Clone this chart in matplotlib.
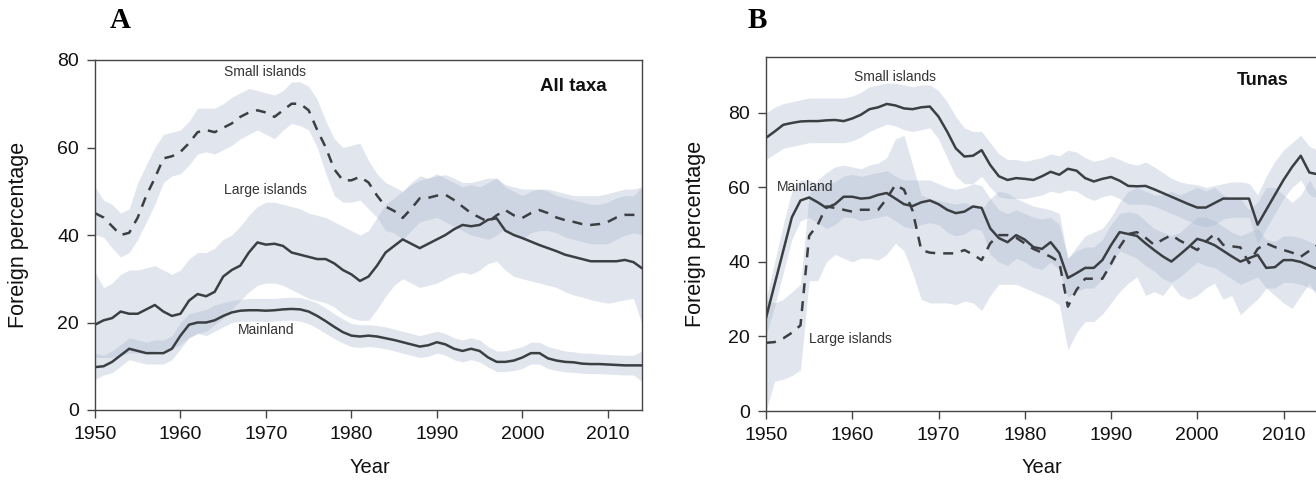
import matplotlib
matplotlib.use("Agg")
import matplotlib.pyplot as plt
import numpy as np

plt.rcParams['font.family'] = ['Liberation Sans', 'DejaVu Sans']

years = np.arange(1950, 2015)

# ---- Panel A: all taxa ----
a_small = [45, 44, 42, 40, 40.5, 44, 49, 53, 57.5, 58,
           59, 61, 63.5, 64, 63.5, 64.5, 65.5, 67, 68, 68.5,
           68, 67, 68.5, 70, 70, 68.5, 64, 60, 55, 52.5,
           52.5, 53.3, 52, 49, 46.5, 45.5, 43.9, 46, 48.4, 48.5,
           49, 49.2, 48, 46.5, 45, 44, 43, 44.5, 45.7, 44.5,
           43.9, 45, 45.7, 45, 44, 43.4, 43, 42.5, 42.3, 42.5,
           43, 44, 44.6, 44.6, 44.5]
a_small_hi = [51, 48, 47, 45, 46, 52, 56, 60, 63, 63.5,
              64, 66, 69, 69, 69, 70, 71.5, 72.5, 73.5, 73,
              72.5, 72, 73, 75, 75, 74, 71, 66, 62, 60,
              60.5, 61, 57, 54, 52, 51, 50, 52, 53.5, 53,
              54, 53, 52, 51, 51.5, 51, 52, 53, 51, 50,
              49, 50, 50.5, 50, 49, 48.5, 48, 47.5, 47, 47,
              47.5, 48.5, 49, 49, 51]
a_small_lo = [40, 39.5, 37, 35, 36, 39, 43, 47, 52, 53.5,
              54, 56, 58.5, 59, 58.5, 59.5, 60.5, 62, 63, 64,
              63, 62, 64, 65.5, 65, 64, 60, 54, 49, 47.5,
              47.5, 48, 46, 44, 41, 40.5, 39, 41, 43, 43.5,
              44, 43, 42, 41, 40, 39.5, 39, 40, 41.5, 40,
              39, 40.5, 41, 41, 40.5, 39.5, 39, 38.5, 38, 38,
              38, 39, 40, 40.5, 40]

a_large = [19.5, 20.5, 21, 22.5, 22, 22, 23, 24, 22.5, 21.5,
           22, 25, 26.5, 26, 27, 30.5, 32, 33, 36, 38.3,
           37.8, 38, 37.5, 36, 35.5, 35, 34.5, 34.5, 33.5, 32,
           31, 29.5, 30.5, 33, 36, 37.5, 39, 38, 37, 38,
           39, 40, 41.3, 42.3, 42, 42.3, 43.5, 43.8, 41, 40,
           39.3, 38.5, 37.7, 37, 36.3, 35.5, 35, 34.5, 34, 34,
           34, 34, 34.3, 33.8, 32.4]
a_large_hi = [31.5, 28, 29, 31, 32, 32, 32.5, 33, 32, 31,
              32, 34.5, 36, 36, 37, 39, 40, 42, 44.5, 46.5,
              47.5, 47.5, 47, 46.5, 46, 45, 44.5, 44, 43, 42,
              41, 40, 41, 44, 47, 48.5, 50, 51.5, 52.5, 53,
              53.5, 53.8, 53, 52, 52, 52.5, 53, 53, 51.5, 51,
              50.5, 50.5, 50.5, 50.5, 50, 49.5, 49, 49, 49, 49,
              49.5, 50, 50.5, 50.5, 51]
a_large_lo = [12, 12, 12, 12.5, 13, 13, 13, 13.5, 13.5, 14,
              15, 16.5, 17.5, 18, 19.5, 21, 23, 25, 27, 28.5,
              29, 29, 28.5, 27.5, 26.5, 25.5, 25, 24.5, 23.5, 22,
              21, 20.5, 20.5, 23, 26, 28.5, 30, 29, 28, 28.5,
              29, 30, 31, 31.5, 31, 32, 33.5, 34, 32, 30.5,
              30, 29.5, 29, 28.5, 28, 27, 26.3, 25.8, 25.2, 24.8,
              24.4, 24.8, 25.2, 25.5, 19.6]

a_main = [9.8, 10, 11, 12.5, 14, 13.5, 13, 13, 13, 14,
          17, 19.5, 20, 20, 20.5, 21.5, 22.3, 22.7, 22.8, 22.8,
          22.7, 22.8, 23, 23.1, 23, 22.5, 21.5, 20.3, 19, 17.8,
          17, 16.8, 17, 16.8, 16.4, 16, 15.5, 15, 14.5, 14.8,
          15.5, 15, 14, 13.5, 14, 13.5, 12, 11, 11, 11.3,
          12, 13, 13, 11.8, 11.3, 11, 10.9, 10.6, 10.5, 10.5,
          10.4, 10.3, 10.2, 10.2, 10.2]
a_main_hi = [13, 12.5, 13.5, 15, 16.5, 16, 15.5, 16, 16, 17,
             20, 22, 22.5, 23, 24, 24.5, 25, 25.3, 25.5, 25.5,
             25.5, 25.5, 25.7, 25.8, 25.7, 25.2, 24.5, 23.3, 22, 20.8,
             19.8, 19.5, 19.5, 19.3, 19, 18.5, 18, 17.5, 17, 17.5,
             18, 17.5, 16.5, 16, 16.5, 16, 14.5, 13.5, 13.5, 14,
             14.5, 15.5, 15.5, 14.5, 14, 13.5, 13.3, 13, 13, 12.8,
             12.7, 12.6, 12.5, 12.5, 13.5]
a_main_lo = [7, 8, 8.5, 10, 11.5, 11, 10.5, 10.5, 10.5, 11.5,
             14, 16.5, 17.5, 17, 18, 19, 20, 20.3, 20.3, 20.3,
             20.2, 20.3, 20.5, 20.5, 20.3, 19.7, 18.7, 17.5, 16.3, 15.3,
             14.5, 14.3, 14.5, 14.3, 14, 13.5, 13, 12.5, 12, 12.3,
             13, 12.5, 11.5, 11, 11.5, 11, 9.8, 8.8, 8.8, 9,
             9.5, 10.5, 10.5, 9.5, 9, 8.7, 8.6, 8.4, 8.3, 8.3,
             8.2, 8.1, 8, 8, 6.5]

# ---- Panel B: tunas ----
b_small = [73.3, 75, 76.8, 77.3, 77.7, 77.8, 77.8, 78, 78.1, 77.8,
           78.5, 79.5, 81, 81.5, 82.4, 82, 81.2, 81, 81.5, 81.7,
           79, 75, 70.5, 68.3, 68.5, 70, 66, 63, 62, 62.5,
           62.3, 62, 63, 64.2, 63.4, 65, 64.5, 62.5, 61.6, 62.3,
           62.8, 61.8, 60.4, 60.3, 60.4, 59.5, 58.5, 57.5, 56.5, 55.5,
           54.6, 54.6, 55.8, 57, 57, 57, 57, 50, 54, 58,
           62, 65.5, 68.5, 64, 63.5]
b_small_hi = [80, 81.5, 82.5, 83, 83.5, 84, 84, 84, 84, 84,
              84.5, 85.5, 87, 87.5, 88, 88, 87.5, 87, 87.5, 87.5,
              86, 83, 79, 76, 75, 75, 72, 69, 67.5, 67.5,
              67, 67.5, 68, 69, 68.5, 70, 69.5, 68, 67, 67.5,
              68.4, 67.5, 66.5, 66, 66.8, 65.5, 64, 62.5, 61.5, 61,
              60.7, 60, 60.5, 61, 61.5, 61.5, 61.1, 58, 63, 67,
              70, 72, 74, 71, 70]
b_small_lo = [67.5, 69, 70.5, 71, 71.5, 72, 72, 72, 72, 72,
              72.5, 73.5, 75, 76, 77, 76.5, 75.5, 75, 75.5, 76,
              73, 68, 63, 61, 61, 63, 60, 57.5, 57, 57,
              57, 57.5, 58, 59, 58.5, 59.3, 59, 57.5, 56.5, 57.5,
              58, 57, 55.5, 55.5, 55.5, 55, 54, 53, 52, 51,
              50, 49.5, 50, 51.5, 52, 52, 52, 45, 49, 53,
              57, 60, 62, 58, 57]

b_main = [25, 34, 43, 52, 56.5, 57.3, 56, 54.5, 55.5, 57.5,
          57.5, 57, 57.2, 58, 58.5, 57, 55.5, 55, 56, 56.5,
          55.5, 54, 53.1, 53.5, 54.9, 54.5, 49, 46.4, 45.3, 47.2,
          46, 44, 43.5, 45.3, 42.4, 35.7, 37, 38.4, 38.4, 40.5,
          44.5, 48, 47.5, 47, 45, 43.2, 41.5, 40.1, 42, 44,
          46.2, 45.5, 44.5, 43, 41.5, 40.1, 41, 41.9, 38.4, 38.6,
          40.5, 40.5, 40, 39, 38]
b_main_hi = [30, 40, 50, 59, 62, 62, 61, 61, 61.5, 63,
             63.5, 63, 63.5, 64, 64.5, 63, 62, 62, 62, 62,
             61, 60, 59.5, 60, 61, 60.5, 57, 54, 53, 54,
             53, 52, 51.5, 52, 50, 41, 43, 44, 44, 46,
             50, 53, 53.5, 53, 51, 49, 48, 47, 48, 50,
             52, 52, 51, 49.5, 48, 47, 48, 49, 46, 45.5,
             47, 47, 46.5, 45.5, 44.5]
b_main_lo = [20, 28, 37, 46, 51, 52, 50.5, 49, 50, 52,
             52, 51, 51.5, 52, 52.5, 51, 49.5, 49, 50, 50.5,
             50, 48, 47, 47.5, 49, 48.5, 42, 40, 39, 41,
             40, 38.5, 38, 40, 38, 30.5, 32, 33, 33, 35.5,
             39, 43, 42, 41, 39, 37.5, 35.5, 34.5, 36, 38,
             40, 39, 38.5, 37, 35.5, 34, 35, 36, 33, 33,
             34.5, 34.5, 34, 33, 32]

b_large = [18.3, 18.5, 19.5, 21, 23, 47, 50, 54.9, 54.5, 54,
           53.5, 54, 54, 54, 57, 60.7, 59.4, 53.7, 43.2, 42.5,
           42.3, 42.3, 42.3, 43.2, 42, 40.5, 45, 47.2, 47.2, 46.5,
           45, 43.5, 42.5, 41.4, 40, 28, 32.5, 35.5, 35.5, 35.5,
           39.5, 44, 47.5, 48, 46.5, 44.6, 46, 47.2, 45.7, 44.5,
           43.2, 45.5, 47.5, 44.6, 44.2, 43.9, 39.7, 43.5, 45, 44,
           43.2, 42.5, 41.4, 43, 44.6]
b_large_hi = [30, 29, 30, 32, 34, 58, 62, 64, 65.5, 66,
              65.5, 65, 66, 66.5, 68, 73, 74, 66, 58, 57,
              56.5, 56, 55.5, 56, 55, 54, 57, 59, 58.5, 57,
              56, 55, 54.5, 54, 53, 41, 44, 47, 48, 49,
              52, 56, 59, 60, 59, 58, 58, 59, 58, 59,
              60, 59, 60, 58, 57, 57, 54, 56, 60, 60,
              58, 56, 58, 62, 58]
b_large_lo = [0, 8, 8.5, 9.5, 11, 35, 35, 40, 42, 41,
              40, 41, 41, 40.5, 42, 45, 43, 37, 30, 29,
              29, 29, 28.5, 29.5, 29, 27, 31, 34, 34, 34,
              33, 32, 31, 30, 28.5, 16.4, 21, 24, 24, 26,
              29, 32, 34.3, 36, 31, 32, 31, 34, 31, 30,
              31, 33, 34.3, 30, 31, 25.8, 28, 30, 33, 31,
              29, 27.5, 31, 34.3, 30]

band_color = '#a5b4cc'
line_color = '#3b3f44'
spine_color = '#444444'

fig = plt.figure(figsize=(13.16, 4.8), dpi=100)
ax_a = fig.add_axes([95 / 1316, 70 / 480, 547 / 1316, 350 / 480])
ax_b = fig.add_axes([766 / 1316, 69 / 480, 552 / 1316, 354 / 480])


def draw_series(ax, mean, lo, hi, dashed):
    ax.fill_between(years, lo, hi, color=band_color, alpha=0.33, linewidth=0)
    if dashed:
        ax.plot(years, mean, color=line_color, lw=1.8, dashes=(4, 3.2))
    else:
        ax.plot(years, mean, color=line_color, lw=1.8)


draw_series(ax_a, a_small, a_small_lo, a_small_hi, True)
draw_series(ax_a, a_large, a_large_lo, a_large_hi, False)
draw_series(ax_a, a_main, a_main_lo, a_main_hi, False)

draw_series(ax_b, b_small, b_small_lo, b_small_hi, False)
draw_series(ax_b, b_main, b_main_lo, b_main_hi, False)
draw_series(ax_b, b_large, b_large_lo, b_large_hi, True)

for ax, ytop in [(ax_a, 80), (ax_b, 95)]:
    ax.set_xlim(1950, 2014)
    ax.set_ylim(0, ytop)
    ax.set_xticks([1950, 1960, 1970, 1980, 1990, 2000, 2010])
    ax.set_yticks([0, 20, 40, 60, 80])
    ax.tick_params(direction='out', length=5.5, width=1, pad=6, labelsize=14,
                   color=spine_color, labelcolor='#111111')
    for s in ax.spines.values():
        s.set_color(spine_color)
        s.set_linewidth(1)
    ax.set_ylabel('Foreign percentage', fontsize=15.5, color='#111111')
    ax.set_xlabel('Year', fontsize=14.5, color='#111111')

ax_b.spines['right'].set_visible(False)
ax_a.yaxis.set_label_coords(-0.121, 0.5)
ax_a.xaxis.set_label_coords(0.503, -0.137)
ax_b.yaxis.set_label_coords(-0.109, 0.5)
ax_b.xaxis.set_label_coords(0.5, -0.133)

lab = dict(fontsize=10, color='#333333', ha='center', va='center')
ax_a.text(1969.9, 77.3, 'Small islands', **lab)
ax_a.text(1970, 50.3, 'Large islands', **lab)
ax_a.text(1970, 18.2, 'Mainland', **lab)
ax_a.text(2009.9, 74, 'All taxa', fontsize=13.5, fontweight='bold',
          color='#111111', ha='right', va='center')

ax_b.text(1965, 89.7, 'Small islands', **lab)
ax_b.text(1951.3, 60, 'Mainland', fontsize=10, color='#333333', ha='left', va='center')
ax_b.text(1955, 19.3, 'Large islands', fontsize=10, color='#333333', ha='left', va='center')
ax_b.text(2010.6, 88.6, 'Tunas', fontsize=13, fontweight='bold',
          color='#111111', ha='right', va='center')

fig.text(120 / 1316, 1 - 20 / 480, 'A', fontsize=21, fontweight='bold',
         family='Liberation Serif', ha='center', va='center')
fig.text(757 / 1316, 1 - 20 / 480, 'B', fontsize=21, fontweight='bold',
         family='Liberation Serif', ha='center', va='center')

fig.savefig('out.png', dpi=100)
